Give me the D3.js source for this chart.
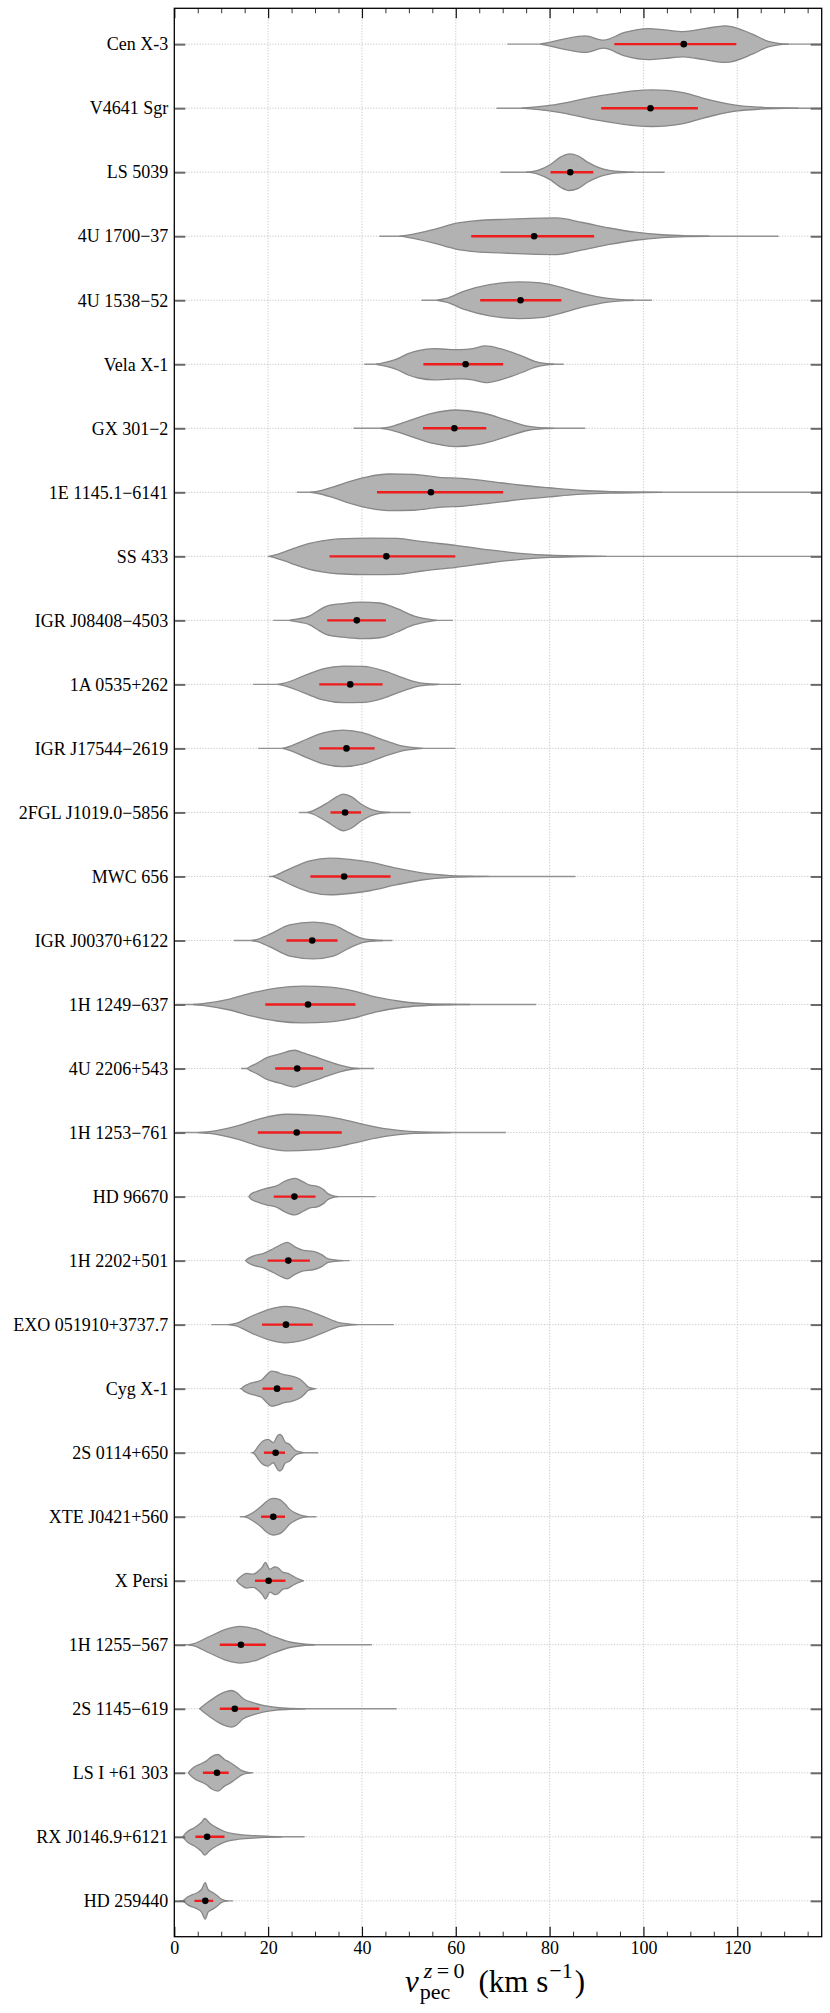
<!DOCTYPE html>
<html>
<head>
<meta charset="utf-8">
<script src="https://cdn.jsdelivr.net/npm/d3@7"></script>
<style>
  body { margin: 0; background: #fff; }
</style>
</head>
<body>
<div id="chart"></div>
<script>
// sources, top to bottom
const names = [
  "Cen X-3", "V4641 Sgr", "LS 5039", "4U 1700\u221237", "4U 1538\u221252",
  "Vela X-1", "GX 301\u22122", "1E 1145.1\u22126141", "SS 433", "IGR J08408\u22124503",
  "1A 0535+262", "IGR J17544\u22122619", "2FGL J1019.0\u22125856", "MWC 656", "IGR J00370+6122",
  "1H 1249\u2212637", "4U 2206+543", "1H 1253\u2212761", "HD 96670", "1H 2202+501",
  "EXO 051910+3737.7", "Cyg X-1", "2S 0114+650", "XTE J0421+560", "X Persi",
  "1H 1255\u2212567", "2S 1145\u2212619", "LS I +61 303", "RX J0146.9+6121", "HD 259440"
];

// median of each distribution (black dot)
const medians = [108.6, 101.5, 84.4, 76.7, 73.8, 62.1, 59.7, 54.7, 45.2, 38.9,
  37.5, 36.7, 36.4, 36.2, 29.4, 28.5, 26.2, 26.1, 25.6, 24.3,
  23.8, 21.9, 21.6, 21.1, 20.1, 14.2, 12.9, 9.1, 7.0, 6.6];

// red interval (low, high)
const errLo = [93.8, 91.0, 80.2, 63.3, 65.2, 53.1, 53.0, 43.2, 33.1, 32.6,
  30.9, 30.9, 33.3, 29.0, 23.9, 19.4, 21.5, 17.8, 21.2, 19.9,
  18.7, 18.8, 19.1, 18.5, 17.2, 9.7, 9.7, 6.1, 4.5, 4.3];
const errHi = [119.8, 111.6, 89.3, 89.5, 82.5, 70.1, 66.5, 70.1, 59.9, 45.1,
  44.4, 42.7, 39.8, 46.1, 34.8, 38.6, 31.7, 35.7, 30.1, 28.9,
  29.5, 25.2, 23.6, 23.6, 23.7, 19.5, 18.1, 11.6, 10.7, 8.3];

// full extent of the samples (thin tails)
const tailMin = [71.0, 68.7, 69.5, 43.7, 52.7, 40.5, 38.2, 26.1, 20.0, 21.1,
  16.8, 17.9, 26.6, 20.2, 12.7, 0.3, 14.2, 0.3, 15.9, 15.2,
  7.9, 14.0, 16.4, 14.0, 13.2, 1.9, 5.4, 2.9, 1.7, 1.1];
const tailMax = [140, 140, 104.5, 128.8, 101.8, 83.0, 87.6, 140, 140, 59.4,
  61.1, 59.9, 50.4, 85.5, 46.5, 77.1, 42.6, 70.7, 42.9, 37.4,
  46.8, 30.3, 30.7, 30.3, 27.5, 42.1, 47.4, 16.8, 27.8, 12.5];

// density outline: [velocity, relative half width]
const shapes = [
  [[78,0],[79.1,0.05],[83,0.27],[87.6,0.45],[91.5,0.22],[96,0.64],[101.1,0.85],[104.5,0.78],[108.5,0.69],[113,0.85],[117.5,1.0],[123.2,0.55],[126.6,0.15],[128.8,0.04],[131,0]],
  [[74,0],[76,0.04],[80,0.15],[84.7,0.36],[89,0.6],[93.8,0.8],[98,0.95],[102,1.0],[105,0.97],[108.5,0.85],[112,0.6],[115,0.4],[120,0.15],[125,0.05],[130,0.01],[133,0]],
  [[75,0],[77.5,0.1],[80.2,0.42],[82.5,0.85],[84.2,1.0],[86,0.9],[88.1,0.55],[90.5,0.25],[92.7,0.1],[96,0.02],[98,0]],
  [[48,0],[49.7,0.06],[55.4,0.38],[60,0.7],[64,0.84],[71.2,0.93],[81.4,1.0],[87,0.75],[92.7,0.45],[98.3,0.22],[104,0.08],[110,0.02],[114,0]],
  [[56,0],[58,0.1],[61.8,0.5],[67.2,0.85],[73.5,1.0],[78,0.95],[82.5,0.7],[87,0.38],[92.4,0.1],[96,0.02],[98,0]],
  [[43,0],[44.5,0.08],[47.5,0.3],[50,0.6],[52,0.75],[55.5,0.85],[58,0.82],[61,0.8],[63.6,0.85],[66.3,1.0],[69.5,0.85],[72,0.65],[74.4,0.42],[77,0.15],[79.5,0.03],[81,0]],
  [[44,0],[46,0.08],[49.3,0.35],[54.7,0.8],[60,1.0],[65.5,0.85],[70.9,0.45],[75.3,0.12],[79,0.02],[81,0]],
  [[29,0],[30.4,0.05],[34,0.3],[37.5,0.6],[41.2,0.85],[45.7,1.0],[51,0.98],[56.4,0.82],[61.8,0.75],[67.2,0.6],[73.5,0.4],[79.8,0.25],[87,0.1],[93.3,0.04],[100,0.01],[104,0]],
  [[20.2,0],[21.5,0.08],[23.5,0.25],[26,0.48],[28.6,0.7],[31.5,0.85],[34.9,0.95],[42.1,1.0],[47.5,0.98],[52.9,0.8],[60,0.6],[67.2,0.35],[74.4,0.15],[80,0.06],[87,0.02],[92,0]],
  [[24.5,0],[25.3,0.04],[28.9,0.25],[30.5,0.5],[32.5,0.78],[36,0.92],[39.9,1.0],[43.8,0.95],[47.4,0.65],[51,0.25],[54.5,0.05],[56,0]],
  [[22,0],[23.2,0.05],[27.5,0.45],[31.7,0.85],[36,1.0],[40.3,0.98],[44.6,0.75],[48.8,0.35],[52.4,0.08],[55.2,0.02],[56.5,0]],
  [[23,0],[23.9,0.05],[28.2,0.5],[31.7,0.85],[36,1.0],[40.3,0.85],[44.6,0.45],[48.8,0.12],[51.7,0.03],[53,0]],
  [[28.5,0],[29.6,0.1],[32.5,0.5],[34.6,0.85],[36,1.0],[37.8,0.85],[39.9,0.45],[41.7,0.2],[43.8,0.05],[46,0]],
  [[21,0],[21.8,0.08],[25.3,0.5],[28.9,0.85],[33.2,1.0],[37.4,0.93],[41.7,0.78],[47.4,0.45],[53.1,0.18],[58.8,0.05],[64,0.01],[67,0]],
  [[16.5,0],[17.5,0.05],[20.4,0.35],[24.6,0.85],[29.6,1.0],[33.9,0.85],[37.4,0.4],[40.3,0.1],[43.1,0.02],[44.5,0]],
  [[4,0],[6.1,0.05],[11.8,0.3],[16.8,0.65],[21.8,0.9],[27.5,1.0],[33.2,0.95],[38.1,0.75],[43.1,0.4],[48.8,0.15],[54.5,0.04],[60,0.01],[63,0]],
  [[15.5,0],[16.1,0.1],[17.5,0.27],[19.6,0.58],[22.5,0.8],[25.7,1.0],[27.5,0.85],[29.6,0.68],[32.5,0.42],[35.3,0.18],[37.8,0.04],[39.5,0]],
  [[5,0],[7.5,0.05],[13.2,0.35],[18.2,0.75],[23.9,1.0],[29.6,0.95],[35.3,0.75],[40.3,0.45],[45.3,0.2],[50.2,0.06],[56,0.01],[59,0]],
  [[15.9,0],[16.4,0.15],[17.5,0.27],[19.6,0.45],[21.8,0.58],[23.6,0.84],[25.7,1.0],[27.5,0.8],[28.9,0.62],[30.3,0.57],[31.7,0.4],[32.8,0.15],[33.9,0.04],[35,0]],
  [[15.2,0],[15.5,0.07],[16.8,0.25],[18.9,0.38],[21.1,0.65],[22.5,0.84],[24.1,1.0],[25.7,0.75],[27.5,0.56],[29.6,0.5],[31.4,0.33],[32.8,0.1],[34.6,0.03],[36,0]],
  [[11.5,0],[12.9,0.05],[16.8,0.5],[20.4,0.85],[23.6,1.0],[27.5,0.85],[31.7,0.45],[35.3,0.1],[37.4,0.03],[39,0]],
  [[14.3,0],[14.7,0.1],[15.7,0.24],[17.2,0.36],[18.6,0.47],[19.6,0.73],[20.7,0.96],[21.8,0.91],[23.2,0.78],[25,0.69],[26.8,0.51],[27.8,0.29],[28.5,0.1],[29.6,0.02],[30,0]],
  [[16.8,0],[17.2,0.1],[17.9,0.36],[18.9,0.64],[20,0.73],[21.1,0.55],[22.1,0.95],[22.5,1.0],[23,0.9],[23.6,0.58],[24.6,0.45],[25.7,0.15],[26.8,0.04],[27.5,0]],
  [[15,0],[15.7,0.07],[17.2,0.3],[18.6,0.58],[19.6,0.82],[21.1,1.0],[22.5,0.93],[23.6,0.69],[24.6,0.4],[26,0.18],[27.5,0.04],[28.5,0]],
  [[13.3,0],[13.6,0.1],[14.3,0.25],[15.4,0.4],[16.8,0.36],[17.9,0.53],[18.8,0.76],[19.4,1.0],[20.4,0.62],[21.4,0.76],[22.1,0.71],[23.1,0.47],[24.3,0.4],[25.3,0.25],[26.4,0.1],[27.3,0.02],[27.6,0]],
  [[3,0],[4,0.05],[7.5,0.45],[11.1,0.85],[14,1.0],[17.5,0.85],[21.1,0.45],[24.6,0.15],[27.5,0.04],[30,0]],
  [[5.4,0],[6.1,0.15],[7.5,0.42],[9.3,0.73],[10.7,0.91],[12.2,1.0],[13.2,0.9],[14.7,0.55],[16.8,0.33],[18.9,0.18],[21.8,0.07],[25.3,0.02],[28,0]],
  [[3,0],[3.3,0.1],[4.3,0.33],[5.8,0.51],[6.8,0.64],[7.9,0.87],[9.3,1.0],[10.7,0.73],[11.8,0.58],[13.2,0.33],[14.3,0.13],[15.7,0.02],[16.3,0]],
  [[1.8,0],[2.2,0.13],[2.9,0.31],[4.3,0.5],[5.8,0.8],[6.5,1.0],[7.5,0.76],[9,0.5],[10.7,0.29],[13.2,0.15],[16.8,0.07],[19.6,0.03],[23,0]],
  [[1.8,0],[2.2,0.07],[2.9,0.22],[4,0.35],[5.1,0.47],[5.8,0.62],[6.6,1.0],[7.2,0.62],[8.3,0.44],[9.3,0.25],[10,0.1],[10.7,0.03],[11.5,0]]
];

const majorTicks = [0, 20, 40, 60, 80, 100, 120];
const minorTicks = [5, 10, 15, 25, 30, 35, 45, 50, 55, 65, 70, 75, 85, 90, 95, 105, 110, 115, 125, 130, 135];

const width = 830,
  height = 2013;
const plot = { left: 174.3, right: 821.7, top: 8.3, bottom: 1936.7 };
const serif = "'Liberation Serif', 'Times New Roman', serif";
const maxHalf = 18.3; // widest violin half width in px

const x = d3.scaleLinear().domain([0, 138]).range([plot.left, plot.right]);
const y = d3.scaleLinear().domain([0.44, 30.56]).range([plot.top, plot.bottom]);

const svg = d3.select("#chart").append("svg").attr("width", width).attr("height", height);

svg.append("defs").append("clipPath").attr("id", "clip")
  .append("rect")
  .attr("x", plot.left).attr("y", plot.top)
  .attr("width", plot.right - plot.left).attr("height", plot.bottom - plot.top);

// dotted grid
const grid = svg.append("g").attr("stroke", "#c2c2c2").attr("stroke-width", 0.9).attr("stroke-dasharray", "1.2,1.6");
grid.selectAll(".gx")
  .data(majorTicks.filter((d) => d > 0))
  .join("line")
  .attr("x1", (d) => x(d)).attr("x2", (d) => x(d))
  .attr("y1", plot.top).attr("y2", plot.bottom);
grid.selectAll(".gy")
  .data(names)
  .join("line")
  .attr("x1", plot.left).attr("x2", plot.right)
  .attr("y1", (d, i) => y(i + 1)).attr("y2", (d, i) => y(i + 1));

// violins
const body = svg.append("g").attr("clip-path", "url(#clip)");

names.forEach((name, i) => {
  const cy = y(i + 1);
  const g = body.append("g");

  g.append("line")
    .attr("x1", x(tailMin[i])).attr("x2", x(tailMax[i]))
    .attr("y1", cy).attr("y2", cy)
    .attr("stroke", "#939393")
    .attr("stroke-width", 1.4);

  const area = d3.area()
    .curve(d3.curveMonotoneX)
    .x((d) => x(d[0]))
    .y0((d) => cy - d[1] * maxHalf)
    .y1((d) => cy + d[1] * maxHalf);

  g.append("path")
    .datum(shapes[i])
    .attr("d", area)
    .attr("fill", "#b2b2b2")
    .attr("stroke", "#878787")
    .attr("stroke-width", 1.3);

  g.append("line")
    .attr("x1", x(errLo[i])).attr("x2", x(errHi[i]))
    .attr("y1", cy).attr("y2", cy)
    .attr("stroke", "#ee1c1c")
    .attr("stroke-width", 2.4);

  g.append("circle")
    .attr("cx", x(medians[i])).attr("cy", cy)
    .attr("r", 3.3)
    .attr("fill", "black");
});

// axes
function styleAxis(g, color, w) {
  g.select(".domain").remove();
  g.selectAll(".tick line").attr("stroke", color).attr("stroke-width", w);
  g.selectAll(".tick text").attr("font-family", serif).attr("font-size", 18).attr("fill", "black");
}

svg.append("g")
  .attr("transform", `translate(0,${plot.bottom})`)
  .call(d3.axisBottom(x).tickValues(majorTicks).tickSizeInner(-10).tickSizeOuter(0).tickPadding(5).tickFormat(d3.format("d")))
  .call((g) => styleAxis(g, "#111", 1.2));
svg.append("g")
  .attr("transform", `translate(0,${plot.bottom})`)
  .call(d3.axisBottom(x).tickValues(minorTicks).tickSizeInner(-5).tickSizeOuter(0).tickFormat(""))
  .call((g) => styleAxis(g, "#333", 1));
svg.append("g")
  .attr("transform", `translate(0,${plot.top})`)
  .call(d3.axisTop(x).tickValues(majorTicks).tickSizeInner(-10).tickSizeOuter(0).tickFormat(""))
  .call((g) => styleAxis(g, "#111", 1.2));
svg.append("g")
  .attr("transform", `translate(0,${plot.top})`)
  .call(d3.axisTop(x).tickValues(minorTicks).tickSizeInner(-5).tickSizeOuter(0).tickFormat(""))
  .call((g) => styleAxis(g, "#333", 1));

svg.append("g")
  .attr("transform", `translate(${plot.left},0)`)
  .call(d3.axisLeft(y).tickValues(d3.range(1, 31)).tickFormat((d) => names[d - 1]).tickSizeInner(-11).tickSizeOuter(0).tickPadding(6))
  .call((g) => styleAxis(g, "#6a6a6a", 2));
svg.append("g")
  .attr("transform", `translate(${plot.right},0)`)
  .call(d3.axisRight(y).tickValues(d3.range(1, 31)).tickFormat("").tickSizeInner(-11).tickSizeOuter(0))
  .call((g) => styleAxis(g, "#6a6a6a", 2));

// frame
svg.append("rect")
  .attr("x", plot.left).attr("y", plot.top)
  .attr("width", plot.right - plot.left).attr("height", plot.bottom - plot.top)
  .attr("fill", "none")
  .attr("stroke", "black")
  .attr("stroke-width", 1.3);

// x label: v_pec^{z=0} (km s^-1)
const lab = svg.append("g").attr("font-family", serif).attr("fill", "black");
const base = 1991.5;
let cx = 0;
const vText = lab.append("text").attr("x", cx).attr("y", base).attr("font-size", 31).attr("font-style", "italic").text("v");
cx += vText.node().getComputedTextLength() + 1;
const sub = lab.append("text").attr("x", cx).attr("y", base + 7.5).attr("font-size", 22).text("pec");
const sup = lab.append("text").attr("x", cx + 4).attr("y", base - 13.5).attr("font-size", 22);
sup.append("tspan").attr("font-style", "italic").text("z");
sup.append("tspan").text("\u2009=\u20090");
cx += Math.max(sup.node().getComputedTextLength() + 4, sub.node().getComputedTextLength()) + 14;
const rest = lab.append("text").attr("x", cx).attr("y", base).attr("font-size", 31).text("(km s");
cx += rest.node().getComputedTextLength() + 1;
const exp = lab.append("text").attr("x", cx).attr("y", base - 13.5).attr("font-size", 22).text("\u22121");
cx += exp.node().getComputedTextLength() + 2;
lab.append("text").attr("x", cx).attr("y", base).attr("font-size", 31).text(")");
const bb = lab.node().getBBox();
lab.attr("transform", `translate(${495 - (bb.x + bb.width / 2)},0)`);
</script>
</body>
</html>
